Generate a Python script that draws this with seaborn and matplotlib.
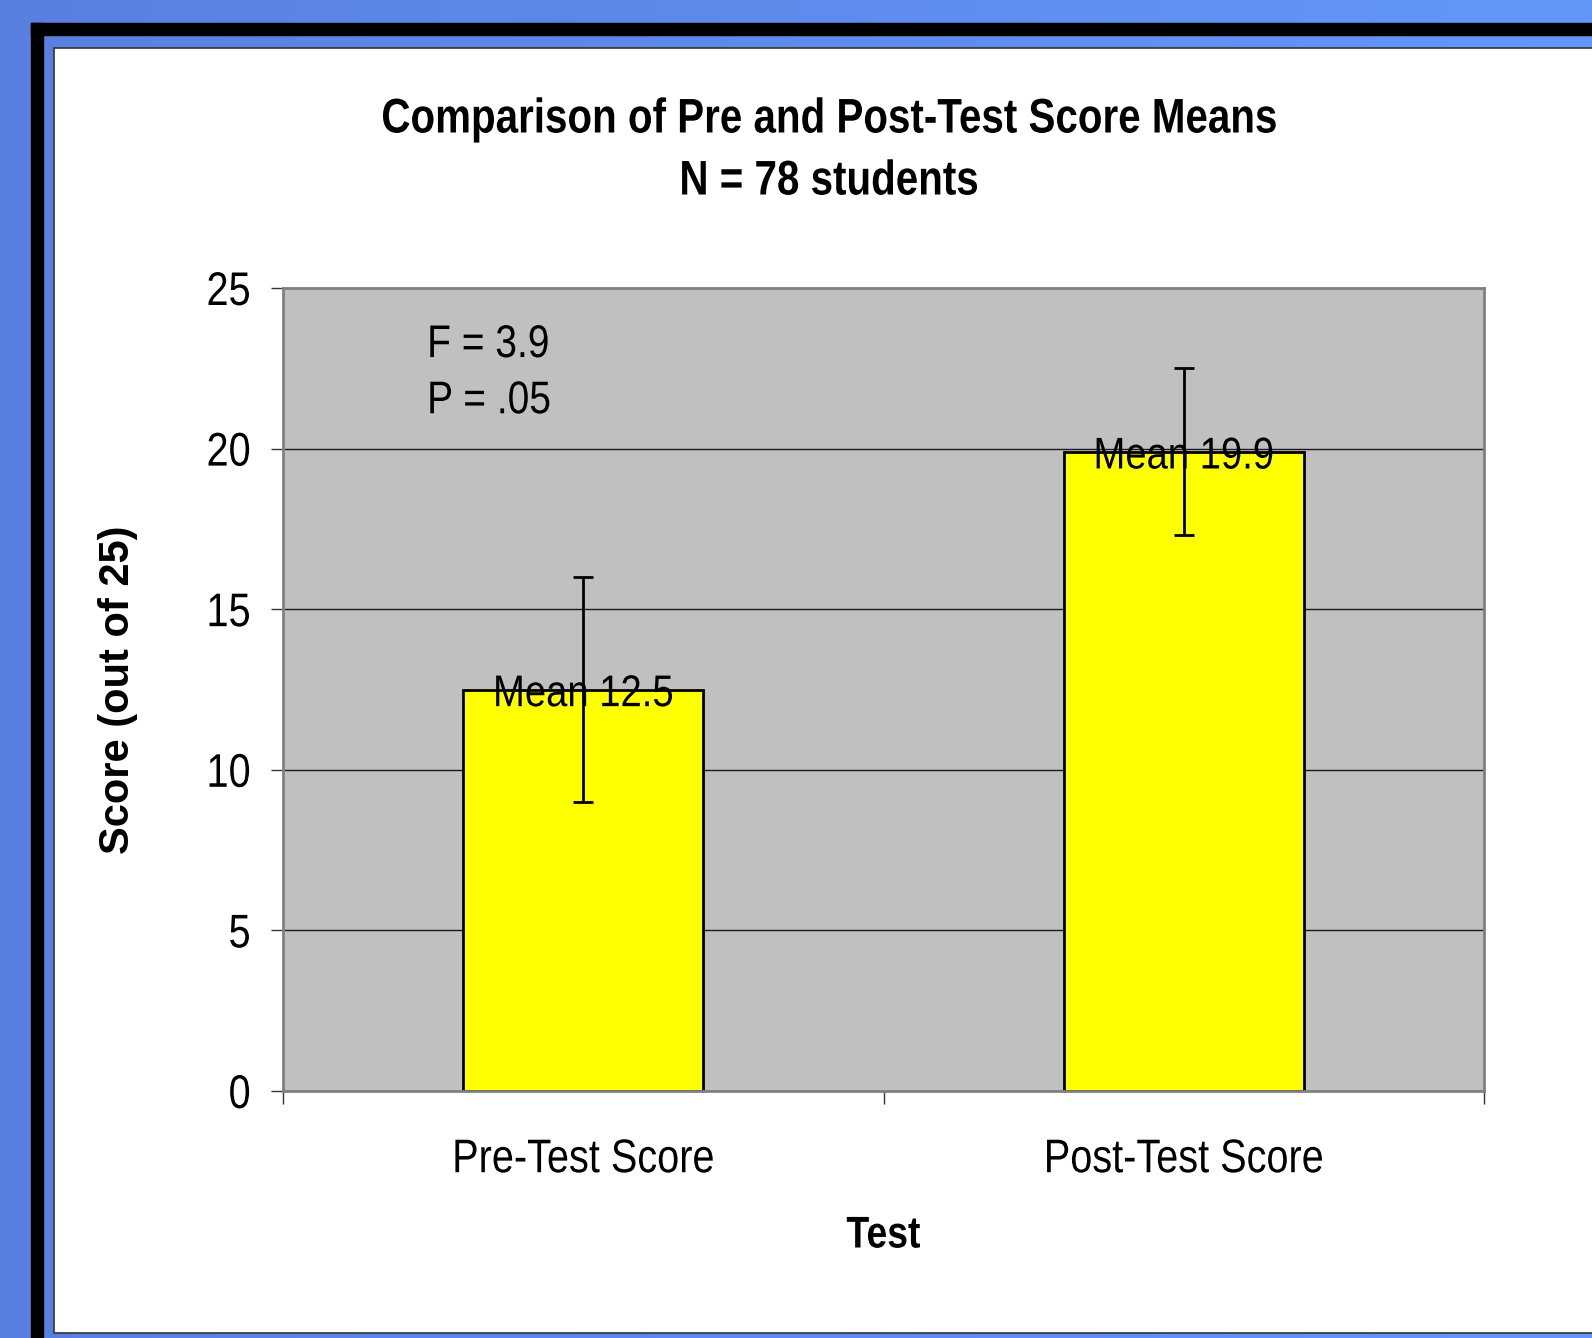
import numpy as np
import matplotlib
matplotlib.use("Agg")
import matplotlib.pyplot as plt
from matplotlib.patches import Rectangle
from matplotlib.transforms import Affine2D
from matplotlib import patheffects
import seaborn as sns

# data
tests = ["Pre-Test Score", "Post-Test Score"]
means = [12.5, 19.9]
errs = [3.5, 2.6]
title_lines = ["Comparison of Pre and Post-Test Score Means", "N = 78 students"]
stats_text = ["F = 3.9", "P = .05"]


class Narrow(patheffects.AbstractPathEffect):
    """squeeze text sideways, the reference uses an Arial Narrow like face"""

    def __init__(self, sx=0.84, ha="center"):
        super().__init__()
        self.sx = sx
        self.ha = ha

    def draw_path(self, renderer, gc, tpath, affine, rgbFace=None):
        ext = tpath.get_extents()
        cx = {"left": 0.0, "center": (ext.x0 + ext.x1) / 2, "right": ext.x1}[self.ha]
        t = Affine2D().translate(-cx, 0).scale(self.sx, 1).translate(cx, 0) + affine
        renderer.draw_path(gc, tpath, t, rgbFace)


sns.set_theme(style="white")
plt.rcParams["font.family"] = ["Liberation Sans", "DejaVu Sans"]
for k in ["text.color", "axes.labelcolor", "xtick.color", "ytick.color"]:
    plt.rcParams[k] = "black"

W, H = 1592, 1338
fig = plt.figure(figsize=(W / 100, H / 100), dpi=100)
fig.patch.set_alpha(0)

# slide style frame behind the chart
bg = fig.add_axes([0, 0, 1, 1], zorder=-5)
grad = np.linspace(0, 1, 256)[None, :, None]
c0 = np.array([89, 128, 224]) / 255
c1 = np.array([100, 150, 250]) / 255
img = c0 + (c1 - c0) * grad
bg.imshow(np.repeat(img, 2, axis=0), extent=[0, W, H, 0], aspect="auto")
bg.add_patch(Rectangle((31, 23), 12, H, color="black"))
bg.add_patch(Rectangle((31, 23), W, 12, color="black"))
bg.add_patch(Rectangle((54, 48), W, 1333 - 48, facecolor="white", edgecolor="#333333", linewidth=1.2))
bg.set_xlim(0, W)
bg.set_ylim(H, 0)
bg.axis("off")

ax = fig.add_axes([283 / W, 1 - 1091 / H, (1484 - 283) / W, (1091 - 288) / H])
ax.set_facecolor("#C0C0C0")

sns.barplot(x=tests, y=means, color="#FFFF00", saturation=1, edgecolor="black",
            linewidth=2, width=0.4, errorbar=None, ax=ax, zorder=2)
ax.errorbar(x=range(len(tests)), y=means, yerr=errs, fmt="none", ecolor="black",
            elinewidth=2, capsize=7, capthick=2, zorder=3)

for i, m in enumerate(means):
    ax.annotate(f"Mean {m}", (i, m), xytext=(0, -12), textcoords="offset points",
                ha="center", va="baseline", fontsize=32, zorder=4,
                path_effects=[Narrow(0.86, "center")])

ax.text(0.12, 0.914, stats_text[0], transform=ax.transAxes, fontsize=33, va="baseline",
        path_effects=[Narrow(0.85, "left")])
ax.text(0.12, 0.844, stats_text[1], transform=ax.transAxes, fontsize=33, va="baseline",
        path_effects=[Narrow(0.85, "left")])

ax.set_xlim(-0.5, 1.5)
ax.set_ylim(0, 25)
ax.set_yticks([0, 5, 10, 15, 20, 25])
ax.yaxis.grid(True, color="#1a1a1a", linewidth=1)
ax.set_axisbelow(True)
for s in ax.spines.values():
    s.set_color("#808080")
    s.set_linewidth(2)

ax.tick_params(axis="y", which="major", left=True, length=9, width=1, color="#333333",
               labelsize=34, pad=14)
ax.tick_params(axis="x", which="major", length=0, labelsize=34, pad=34)
ax.set_xticks([-0.5, 0.5, 1.5], minor=True)
ax.tick_params(axis="x", which="minor", bottom=True, length=9, width=1, color="#333333")
for lbl in ax.get_xticklabels():
    lbl.set_path_effects([Narrow(0.84, "center")])
for lbl in ax.get_yticklabels():
    lbl.set_path_effects([Narrow(0.84, "right")])

ax.set_xlabel("Test", fontsize=32, fontweight="bold", va="center",
              path_effects=[Narrow(0.84, "center")])
ax.xaxis.set_label_coords(0.5, -(1236 - 1091) / (1091 - 288))
ax.set_ylabel("Score (out of 25)", fontsize=30, fontweight="bold", va="center")
ax.yaxis.set_label_coords((118 - 283) / (1484 - 283), 0.5)

fig.text(829 / W, 1 - 120 / H, title_lines[0], ha="center", va="center", fontsize=35,
         fontweight="bold", path_effects=[Narrow(0.83, "center")])
fig.text(829 / W, 1 - 182 / H, title_lines[1], ha="center", va="center", fontsize=35,
         fontweight="bold", path_effects=[Narrow(0.83, "center")])

fig.savefig("out.png", dpi=100)
